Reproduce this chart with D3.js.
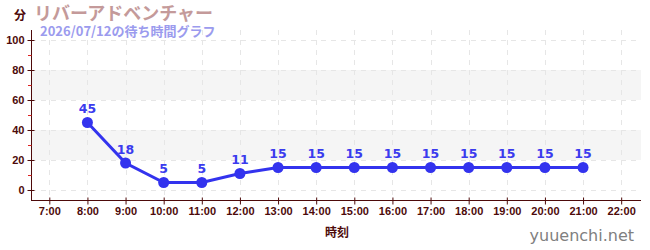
<!DOCTYPE html>
<html><head><meta charset="utf-8">
<script src="https://cdn.jsdelivr.net/npm/d3@7"></script>
<style>body{margin:0;background:#fff;} svg{display:block;font-family:"Noto Sans CJK JP","Noto Sans",sans-serif;}</style>
</head><body>
<svg id="c" width="650" height="250"></svg>
<script>
const hours = [8, 9, 10, 11, 12, 13, 14, 15, 16, 17, 18, 19, 20, 21];
const waits = [45, 18, 5, 5, 11, 15, 15, 15, 15, 15, 15, 15, 15, 15];
const xTicks = [7, 8, 9, 10, 11, 12, 13, 14, 15, 16, 17, 18, 19, 20, 21, 22];
const yTicks = [0, 20, 40, 60, 80, 100];
const yMinor = [10, 30, 50, 70, 90];
const bands = [[20, 40], [60, 80]];
const title = "リバーアドベンチャー";
const subtitle = "2026/07/12の待ち時間グラフ";

const svg = d3.select("#c");
const L = 31, R = 641, T = 30, B = 200;
const x = d3.scaleLinear().domain([6.52, 22.52]).range([L, R]);
const y = d3.scaleLinear().domain([-6.67, 106.67]).range([B, T]);
const dark = "#4d0a0a";

// bands
svg.append("g").selectAll("rect").data(bands).join("rect")
  .attr("x", L).attr("width", R - L)
  .attr("y", d => y(d[1])).attr("height", d => y(d[0]) - y(d[1]))
  .attr("fill", "#f5f5f5");

// grid
const grid = svg.append("g").attr("stroke", "#e6e6e6").attr("stroke-dasharray", "5,5").attr("stroke-width", 1);
grid.selectAll(".h").data(yTicks).join("line")
  .attr("x1", L).attr("x2", R).attr("y1", d => Math.round(y(d)) + 0.5).attr("y2", d => Math.round(y(d)) + 0.5);
grid.selectAll(".v").data(xTicks).join("line")
  .attr("y1", T).attr("y2", B).attr("x1", d => Math.round(x(d)) + 0.5).attr("x2", d => Math.round(x(d)) + 0.5);

// y axis
const yAxis = svg.append("g").attr("transform", `translate(${L + 0.5},0)`)
  .call(d3.axisLeft(y).tickValues(yTicks).tickSize(4).tickPadding(3).tickFormat(d3.format("d")));
yAxis.select(".domain").attr("stroke", dark).attr("d", `M0,${T}V${B}`);
yAxis.selectAll(".tick line").attr("stroke", dark).attr("x1", 3);
yAxis.selectAll("text").attr("fill", dark).attr("font-size", 11).attr("font-weight", "bold").attr("font-family", "Liberation Sans, sans-serif");
svg.append("g").selectAll("line").data(yMinor).join("line")
  .attr("x1", L - 3).attr("x2", L + 0.5).attr("y1", d => Math.round(y(d)) + 0.5).attr("y2", d => Math.round(y(d)) + 0.5)
  .attr("stroke", "#dd2222");

// x axis
const xAxis = svg.append("g").attr("transform", `translate(0,${B + 0.5})`)
  .call(d3.axisBottom(x).tickValues(xTicks).tickSize(4).tickPadding(3).tickFormat(d => d + ":00"));
xAxis.select(".domain").attr("stroke", dark).attr("d", `M${L},0H${R}`);
xAxis.selectAll(".tick line").attr("stroke", dark).attr("y1", -3);
xAxis.selectAll("text").attr("fill", dark).attr("font-size", 11).attr("font-weight", "bold").attr("font-family", "Liberation Sans, sans-serif");

// line
const pts = hours.map((h, i) => [h, waits[i]]);
svg.append("path").datum(pts)
  .attr("fill", "none").attr("stroke", "#3333ee").attr("stroke-width", 3)
  .attr("d", d3.line().x(d => x(d[0])).y(d => y(d[1])));
svg.append("g").selectAll("circle").data(pts).join("circle")
  .attr("cx", d => x(d[0])).attr("cy", d => y(d[1])).attr("r", 5.5).attr("fill", "#3333ee");
svg.append("g").selectAll("text").data(pts).join("text")
  .attr("x", d => x(d[0])).attr("y", d => y(d[1]) - 9)
  .attr("text-anchor", "middle").attr("fill", "#3b3bee").attr("font-size", 12.5).attr("font-weight", "bold")
  .attr("font-family", "DejaVu Sans, sans-serif")
  .text(d => d[1]);

// titles
svg.append("text").attr("x", 34).attr("y", 20).attr("fill", "#c49a9a").attr("font-size", 18).attr("font-weight", "bold").text(title);
svg.append("text").attr("x", 40).attr("y", 36).attr("fill", "#9b9bee").attr("font-size", 13).attr("font-weight", "bold").text(subtitle);
svg.append("text").attr("x", 14).attr("y", 20).attr("fill", dark).attr("font-size", 12).attr("font-weight", "bold").text("分");
svg.append("text").attr("x", 337).attr("y", 237).attr("text-anchor", "middle").attr("fill", dark).attr("font-size", 12).attr("font-weight", "bold").text("時刻");
svg.append("text").attr("x", 634).attr("y", 241).attr("text-anchor", "end").attr("fill", "#808080").attr("font-size", 16).attr("font-family", "DejaVu Sans, sans-serif").text("yuuenchi.net");
</script>
</body></html>
